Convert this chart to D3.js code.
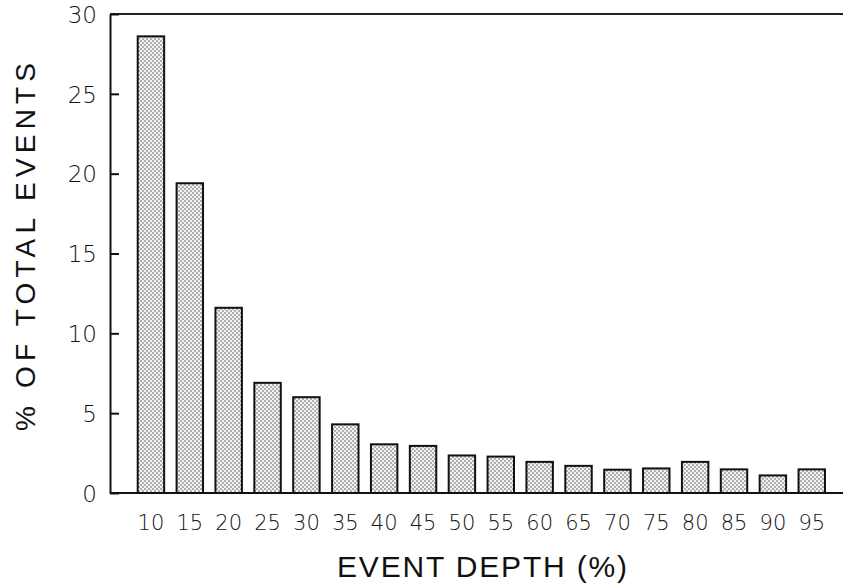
<!DOCTYPE html>
<html>
<head>
<meta charset="utf-8">
<script src="https://cdnjs.cloudflare.com/ajax/libs/d3/7.8.5/d3.min.js"></script>
<style>
  body { margin: 0; background: #fff; }
  svg { display: block; }
</style>
</head>
<body>
<svg id="chart"></svg>
<script>
let depths = ["10", "15", "20", "25", "30", "35", "40", "45", "50", "55",
              "60", "65", "70", "75", "80", "85", "90", "95"];
let percents = [28.6, 19.4, 11.6, 6.9, 6.0, 4.3, 3.05, 2.95, 2.35, 2.28,
                1.95, 1.7, 1.46, 1.54, 1.95, 1.48, 1.1, 1.48];
let yTicks = [0, 5, 10, 15, 20, 25, 30];

let width = 843;
let height = 583;

let plotLeft = 110;
let plotTop = 14;
let plotBottom = 493;

let svg = d3.select("#chart").attr("width", width).attr("height", height);

// stipple fill for the bars
let defs = svg.append("defs");
let pat = defs.append("pattern")
  .attr("id", "dots")
  .attr("patternUnits", "userSpaceOnUse")
  .attr("width", 4)
  .attr("height", 4);
pat.append("rect").attr("width", 4).attr("height", 4).attr("fill", "#f2f2f2");
pat.append("circle").attr("cx", 1).attr("cy", 1).attr("r", 0.8).attr("fill", "#5a5a5a");
pat.append("circle").attr("cx", 3).attr("cy", 3).attr("r", 0.8).attr("fill", "#5a5a5a");

let xScale = d3.scaleBand()
  .domain(depths)
  .range([124.7, 838])
  .paddingInner(0.32)
  .paddingOuter(0.335);

let yScale = d3.scaleLinear()
  .domain([0, 30])
  .range([plotBottom, plotTop]);

// bars
svg.selectAll("rect.bar")
  .data(depths)
  .enter()
  .append("rect")
  .attr("class", "bar")
  .attr("x", (d) => xScale(d))
  .attr("y", (d, i) => yScale(percents[i]))
  .attr("width", xScale.bandwidth())
  .attr("height", (d, i) => plotBottom - yScale(percents[i]))
  .attr("fill", "url(#dots)")
  .attr("stroke", "#111")
  .attr("stroke-width", 2);

// frame lines: left, top and bottom (the right side is cut off)
svg.append("line")
  .attr("x1", plotLeft).attr("x2", width)
  .attr("y1", plotTop).attr("y2", plotTop)
  .attr("stroke", "#222").attr("stroke-width", 2);
svg.append("line")
  .attr("x1", plotLeft).attr("x2", width)
  .attr("y1", plotBottom).attr("y2", plotBottom)
  .attr("stroke", "#111").attr("stroke-width", 2);

let yAxis = d3.axisLeft(yScale)
  .tickValues(yTicks)
  .tickFormat(d3.format("d"))
  .tickSizeInner(-9)
  .tickSizeOuter(0)
  .tickPadding(13);

let gy = svg.append("g")
  .attr("transform", "translate(" + plotLeft + ",0)")
  .call(yAxis);
gy.select(".domain").attr("stroke", "#111").attr("stroke-width", 2);
gy.selectAll(".tick line").attr("stroke", "#111").attr("stroke-width", 2);
gy.selectAll(".tick text")
  .style("font-size", "23px")
  .style("font-family", "'DejaVu Sans', sans-serif")
  .style("font-weight", 200)
  .attr("fill", "#111")
  .attr("dy", "0.36em");

let xAxis = d3.axisBottom(xScale)
  .tickSize(0)
  .tickPadding(22);

let gx = svg.append("g")
  .attr("transform", "translate(0," + plotBottom + ")")
  .call(xAxis);
gx.select(".domain").remove();
gx.selectAll(".tick text")
  .style("font-size", "21px")
  .style("font-family", "'DejaVu Sans', sans-serif")
  .style("font-weight", 200)
  .attr("fill", "#111");

// axis titles
svg.append("text")
  .attr("x", 482)
  .attr("y", 577)
  .attr("text-anchor", "middle")
  .style("font-family", "'Liberation Sans', Arial, sans-serif")
  .style("font-size", "30px")
  .attr("fill", "#111")
  .attr("textLength", 290)
  .attr("lengthAdjust", "spacing")
  .text("EVENT DEPTH (%)");

svg.append("text")
  .attr("transform", "translate(35,247) rotate(-90)")
  .attr("text-anchor", "middle")
  .style("font-family", "'Liberation Sans', Arial, sans-serif")
  .style("font-size", "28px")
  .attr("fill", "#111")
  .attr("textLength", 368)
  .attr("lengthAdjust", "spacing")
  .text("% OF TOTAL EVENTS");
</script>
</body>
</html>
